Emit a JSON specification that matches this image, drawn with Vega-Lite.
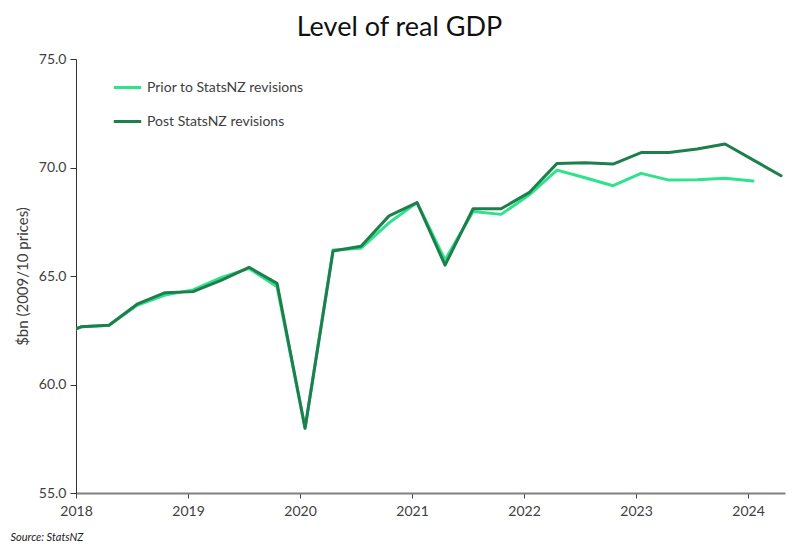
{
  "$schema": "https://vega.github.io/schema/vega-lite/v6.json",
  "width": 709,
  "height": 434,
  "autosize": {"type": "none"},
  "padding": {"left": 76, "top": 59, "right": 15, "bottom": 58},
  "background": "white",
  "title": {
    "text": "Level of real GDP",
    "font": "Lato",
    "fontSize": 27,
    "fontWeight": "normal",
    "color": "#111111",
    "anchor": "middle",
    "dx": -31,
    "offset": 10
  },
  "config": {
    "font": "Lato",
    "view": {"stroke": null}
  },
  "data": {
    "values": [
      {"q": "2018Q1", "t": 2017.795, "series": "Prior to StatsNZ revisions", "v": 62.1},
      {"q": "2018Q2", "t": 2018.045, "series": "Prior to StatsNZ revisions", "v": 62.66},
      {"q": "2018Q3", "t": 2018.295, "series": "Prior to StatsNZ revisions", "v": 62.73},
      {"q": "2018Q4", "t": 2018.545, "series": "Prior to StatsNZ revisions", "v": 63.65},
      {"q": "2019Q1", "t": 2018.795, "series": "Prior to StatsNZ revisions", "v": 64.12},
      {"q": "2019Q2", "t": 2019.045, "series": "Prior to StatsNZ revisions", "v": 64.36},
      {"q": "2019Q3", "t": 2019.295, "series": "Prior to StatsNZ revisions", "v": 64.92},
      {"q": "2019Q4", "t": 2019.545, "series": "Prior to StatsNZ revisions", "v": 65.35},
      {"q": "2020Q1", "t": 2019.795, "series": "Prior to StatsNZ revisions", "v": 64.5},
      {"q": "2020Q2", "t": 2020.045, "series": "Prior to StatsNZ revisions", "v": 58.0},
      {"q": "2020Q3", "t": 2020.295, "series": "Prior to StatsNZ revisions", "v": 66.2},
      {"q": "2020Q4", "t": 2020.545, "series": "Prior to StatsNZ revisions", "v": 66.28},
      {"q": "2021Q1", "t": 2020.795, "series": "Prior to StatsNZ revisions", "v": 67.45},
      {"q": "2021Q2", "t": 2021.045, "series": "Prior to StatsNZ revisions", "v": 68.38},
      {"q": "2021Q3", "t": 2021.295, "series": "Prior to StatsNZ revisions", "v": 65.74},
      {"q": "2021Q4", "t": 2021.545, "series": "Prior to StatsNZ revisions", "v": 67.97},
      {"q": "2022Q1", "t": 2021.795, "series": "Prior to StatsNZ revisions", "v": 67.84},
      {"q": "2022Q2", "t": 2022.045, "series": "Prior to StatsNZ revisions", "v": 68.73},
      {"q": "2022Q3", "t": 2022.295, "series": "Prior to StatsNZ revisions", "v": 69.88},
      {"q": "2022Q4", "t": 2022.545, "series": "Prior to StatsNZ revisions", "v": 69.53},
      {"q": "2023Q1", "t": 2022.795, "series": "Prior to StatsNZ revisions", "v": 69.16},
      {"q": "2023Q2", "t": 2023.045, "series": "Prior to StatsNZ revisions", "v": 69.73},
      {"q": "2023Q3", "t": 2023.295, "series": "Prior to StatsNZ revisions", "v": 69.42},
      {"q": "2023Q4", "t": 2023.545, "series": "Prior to StatsNZ revisions", "v": 69.43},
      {"q": "2024Q1", "t": 2023.795, "series": "Prior to StatsNZ revisions", "v": 69.5},
      {"q": "2024Q2", "t": 2024.045, "series": "Prior to StatsNZ revisions", "v": 69.38},
      {"q": "2018Q1", "t": 2017.795, "series": "Post StatsNZ revisions", "v": 62.1},
      {"q": "2018Q2", "t": 2018.045, "series": "Post StatsNZ revisions", "v": 62.66},
      {"q": "2018Q3", "t": 2018.295, "series": "Post StatsNZ revisions", "v": 62.73},
      {"q": "2018Q4", "t": 2018.545, "series": "Post StatsNZ revisions", "v": 63.7},
      {"q": "2019Q1", "t": 2018.795, "series": "Post StatsNZ revisions", "v": 64.23},
      {"q": "2019Q2", "t": 2019.045, "series": "Post StatsNZ revisions", "v": 64.28},
      {"q": "2019Q3", "t": 2019.295, "series": "Post StatsNZ revisions", "v": 64.8},
      {"q": "2019Q4", "t": 2019.545, "series": "Post StatsNZ revisions", "v": 65.4},
      {"q": "2020Q1", "t": 2019.795, "series": "Post StatsNZ revisions", "v": 64.66},
      {"q": "2020Q2", "t": 2020.045, "series": "Post StatsNZ revisions", "v": 57.98},
      {"q": "2020Q3", "t": 2020.295, "series": "Post StatsNZ revisions", "v": 66.15},
      {"q": "2020Q4", "t": 2020.545, "series": "Post StatsNZ revisions", "v": 66.37},
      {"q": "2021Q1", "t": 2020.795, "series": "Post StatsNZ revisions", "v": 67.77},
      {"q": "2021Q2", "t": 2021.045, "series": "Post StatsNZ revisions", "v": 68.38},
      {"q": "2021Q3", "t": 2021.295, "series": "Post StatsNZ revisions", "v": 65.5},
      {"q": "2021Q4", "t": 2021.545, "series": "Post StatsNZ revisions", "v": 68.1},
      {"q": "2022Q1", "t": 2021.795, "series": "Post StatsNZ revisions", "v": 68.1},
      {"q": "2022Q2", "t": 2022.045, "series": "Post StatsNZ revisions", "v": 68.84},
      {"q": "2022Q3", "t": 2022.295, "series": "Post StatsNZ revisions", "v": 70.19},
      {"q": "2022Q4", "t": 2022.545, "series": "Post StatsNZ revisions", "v": 70.22},
      {"q": "2023Q1", "t": 2022.795, "series": "Post StatsNZ revisions", "v": 70.16},
      {"q": "2023Q2", "t": 2023.045, "series": "Post StatsNZ revisions", "v": 70.69},
      {"q": "2023Q3", "t": 2023.295, "series": "Post StatsNZ revisions", "v": 70.69},
      {"q": "2023Q4", "t": 2023.545, "series": "Post StatsNZ revisions", "v": 70.85},
      {"q": "2024Q1", "t": 2023.795, "series": "Post StatsNZ revisions", "v": 71.08},
      {"q": "2024Q2", "t": 2024.045, "series": "Post StatsNZ revisions", "v": 70.35},
      {"q": "2024Q3", "t": 2024.295, "series": "Post StatsNZ revisions", "v": 69.62}
    ]
  },
  "mark": {"type": "line", "strokeWidth": 3, "clip": true, "strokeJoin": "round", "strokeCap": "round"},
  "encoding": {
    "x": {
      "field": "t",
      "type": "quantitative",
      "scale": {"domain": [2018, 2024.33], "nice": false, "zero": false},
      "axis": {
        "values": [2018, 2019, 2020, 2021, 2022, 2023, 2024],
        "format": "d",
        "grid": false,
        "labelFlush": false,
        "labelOverlap": false,
        "domainColor": "#808080",
        "domainWidth": 2,
        "tickColor": "#404040",
        "tickSize": 5,
        "labelFont": "Lato",
        "labelFontSize": 14,
        "labelColor": "#404040",
        "labelPadding": 6,
        "title": "Source: StatsNZ",
        "titleFont": "Lato",
        "titleFontSize": 11,
        "titleFontStyle": "italic",
        "titleFontWeight": "normal",
        "titleColor": "#222222",
        "titleAnchor": "start",
        "titleAlign": "left",
        "titleX": -66,
        "titleY": 38
      }
    },
    "y": {
      "field": "v",
      "type": "quantitative",
      "scale": {"domain": [55, 75], "nice": false, "zero": false},
      "axis": {
        "values": [55, 60, 65, 70, 75],
        "format": ".1f",
        "grid": false,
        "labelFlush": false,
        "domainColor": "#333333",
        "domainWidth": 1,
        "tickColor": "#333333",
        "tickSize": 6,
        "labelFont": "Lato",
        "labelFontSize": 14,
        "labelColor": "#404040",
        "labelPadding": 4,
        "title": "$bn (2009/10 prices)",
        "titleFont": "Lato",
        "titleFontSize": 15,
        "titleFontWeight": "normal",
        "titleColor": "#404040",
        "titleX": -54,
        "titleY": 217,
        "titleAngle": -90,
        "titleAlign": "center",
        "titleBaseline": "middle"
      }
    },
    "color": {
      "field": "series",
      "type": "nominal",
      "scale": {
        "domain": ["Prior to StatsNZ revisions", "Post StatsNZ revisions"],
        "range": ["#2fe28c", "#1f7f4c"]
      },
      "legend": {
        "title": null,
        "orient": "none",
        "legendX": 36,
        "legendY": 13,
        "symbolType": "stroke",
        "symbolSize": 750,
        "symbolStrokeWidth": 3,
        "labelFont": "Lato",
        "labelFontSize": 14,
        "labelColor": "#404040",
        "labelOffset": 4,
        "rowPadding": 11
      }
    },
    "order": {"field": "t", "type": "quantitative"}
  }
}
